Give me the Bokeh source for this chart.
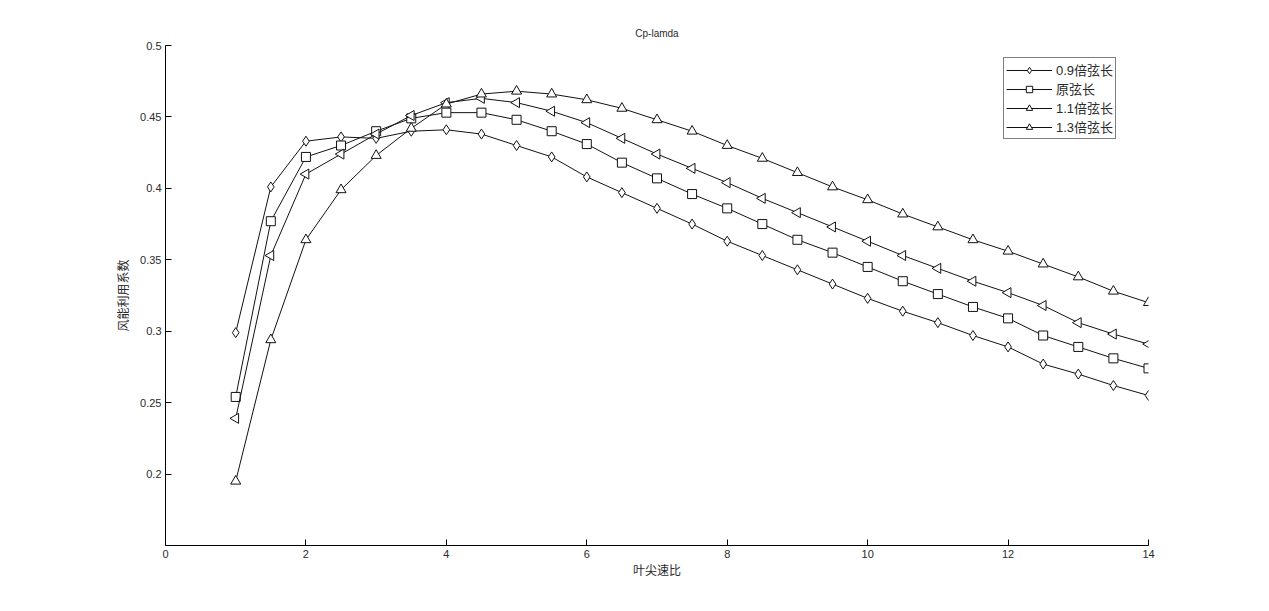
import numpy as np
from bokeh.plotting import figure
from bokeh.models import Legend, LegendItem, Range1d, FixedTicker
from bokeh.embed import file_html
from bokeh.resources import INLINE

tsr = [1.0, 1.5, 2.0, 2.5, 3.0, 3.5, 4.0, 4.5, 5.0, 5.5, 6.0, 6.5, 7.0, 7.5,
       8.0, 8.5, 9.0, 9.5, 10.0, 10.5, 11.0, 11.5, 12.0, 12.5, 13.0, 13.5, 14.0]
cp_09 = [0.299, 0.401, 0.433, 0.436, 0.435, 0.440, 0.441, 0.438, 0.430, 0.422, 0.408, 0.397, 0.386, 0.375,
         0.363, 0.353, 0.343, 0.333, 0.323, 0.314, 0.306, 0.297, 0.289, 0.277, 0.270, 0.262, 0.255]
cp_10 = [0.254, 0.377, 0.422, 0.430, 0.440, 0.449, 0.453, 0.453, 0.448, 0.440, 0.431, 0.418, 0.407, 0.396,
         0.386, 0.375, 0.364, 0.355, 0.345, 0.335, 0.326, 0.317, 0.309, 0.297, 0.289, 0.281, 0.274]
cp_11 = [0.239, 0.353, 0.410, 0.424, 0.438, 0.451, 0.460, 0.463, 0.460, 0.454, 0.446, 0.435, 0.424, 0.414,
         0.404, 0.393, 0.383, 0.373, 0.363, 0.353, 0.344, 0.335, 0.327, 0.318, 0.306, 0.298, 0.291]
cp_13 = [0.195, 0.294, 0.364, 0.399, 0.423, 0.442, 0.459, 0.466, 0.468, 0.466, 0.462, 0.456, 0.448, 0.440,
         0.430, 0.421, 0.411, 0.401, 0.392, 0.382, 0.373, 0.364, 0.356, 0.347, 0.338, 0.328, 0.320]
labels = ["0.9倍弦长", "原弦长", "1.1倍弦长", "1.3倍弦长"]
x_ticks = [0, 2, 4, 6, 8, 10, 12, 14]
y_ticks = [0.2, 0.25, 0.3, 0.35, 0.4, 0.45, 0.5]

FONT = "'Liberation Sans', 'Noto Sans CJK SC', sans-serif"
TXT = "#2a2a2a"

p = figure(width=1253, height=595, output_backend="svg", toolbar_location=None,
           x_range=Range1d(0, 14), y_range=Range1d(0.15, 0.5),
           min_border_left=165, min_border_right=105, min_border_top=45, min_border_bottom=50,
           title="Cp-lamda")
p.title.align = "center"
p.title.text_font = FONT
p.title.text_font_size = "10px"
p.title.text_font_style = "normal"
p.title.text_color = TXT
p.title.offset = -4
p.title.standoff = 14

p.xgrid.visible = False
p.ygrid.visible = False
p.outline_line_color = None
p.background_fill_color = "white"
p.border_fill_color = "white"

for ax in (p.xaxis[0], p.yaxis[0]):
    ax.axis_line_color = "black"
    ax.major_tick_line_color = "black"
    ax.major_tick_in = 6
    ax.major_tick_out = 0
    ax.minor_tick_line_color = None
    ax.major_label_text_font = FONT
    ax.major_label_text_font_size = "11px"
    ax.major_label_text_color = TXT
    ax.axis_label_text_font = FONT
    ax.axis_label_text_font_size = "12px"
    ax.axis_label_text_font_style = "normal"
    ax.axis_label_text_color = TXT

p.xaxis.ticker = FixedTicker(ticks=x_ticks)
p.yaxis.ticker = FixedTicker(ticks=y_ticks)
p.xaxis.major_label_standoff = 4
p.yaxis.major_label_standoff = 4
p.xaxis.axis_label = "叶尖速比"
p.yaxis.axis_label = "风能利用系数"
p.xaxis.axis_label_standoff = 3
p.yaxis.axis_label_standoff = 6

series = [
    (cp_09, "diamond", 0.0, 10),
    (cp_10, "square", 0.0, 9),
    (cp_11, "triangle", np.pi / 2, 10),
    (cp_13, "triangle", 0.0, 10),
]
items = []
for (ys, mk, ang, sz), lab in zip(series, labels):
    lr = p.line(tsr, ys, line_color="#111111", line_width=1)
    sr = p.scatter(tsr, ys, marker=mk, angle=ang, size=sz, line_color="#111111",
                   line_width=1, fill_color="white")
    items.append(LegendItem(label=lab, renderers=[lr, sr]))

legend = Legend(items=items, location=(838, 406))
legend.label_text_font = FONT
legend.label_text_font_size = "13px"
legend.label_text_color = TXT
legend.glyph_width = 46
legend.glyph_height = 16
legend.label_height = 16
legend.spacing = -1
legend.padding = 2
legend.margin = 0
legend.label_standoff = 4
legend.border_line_color = "black"
legend.border_line_width = 1
legend.background_fill_color = "white"
legend.background_fill_alpha = 1
p.add_layout(legend, "center")

open("out.html", "w").write(file_html(p, INLINE))
